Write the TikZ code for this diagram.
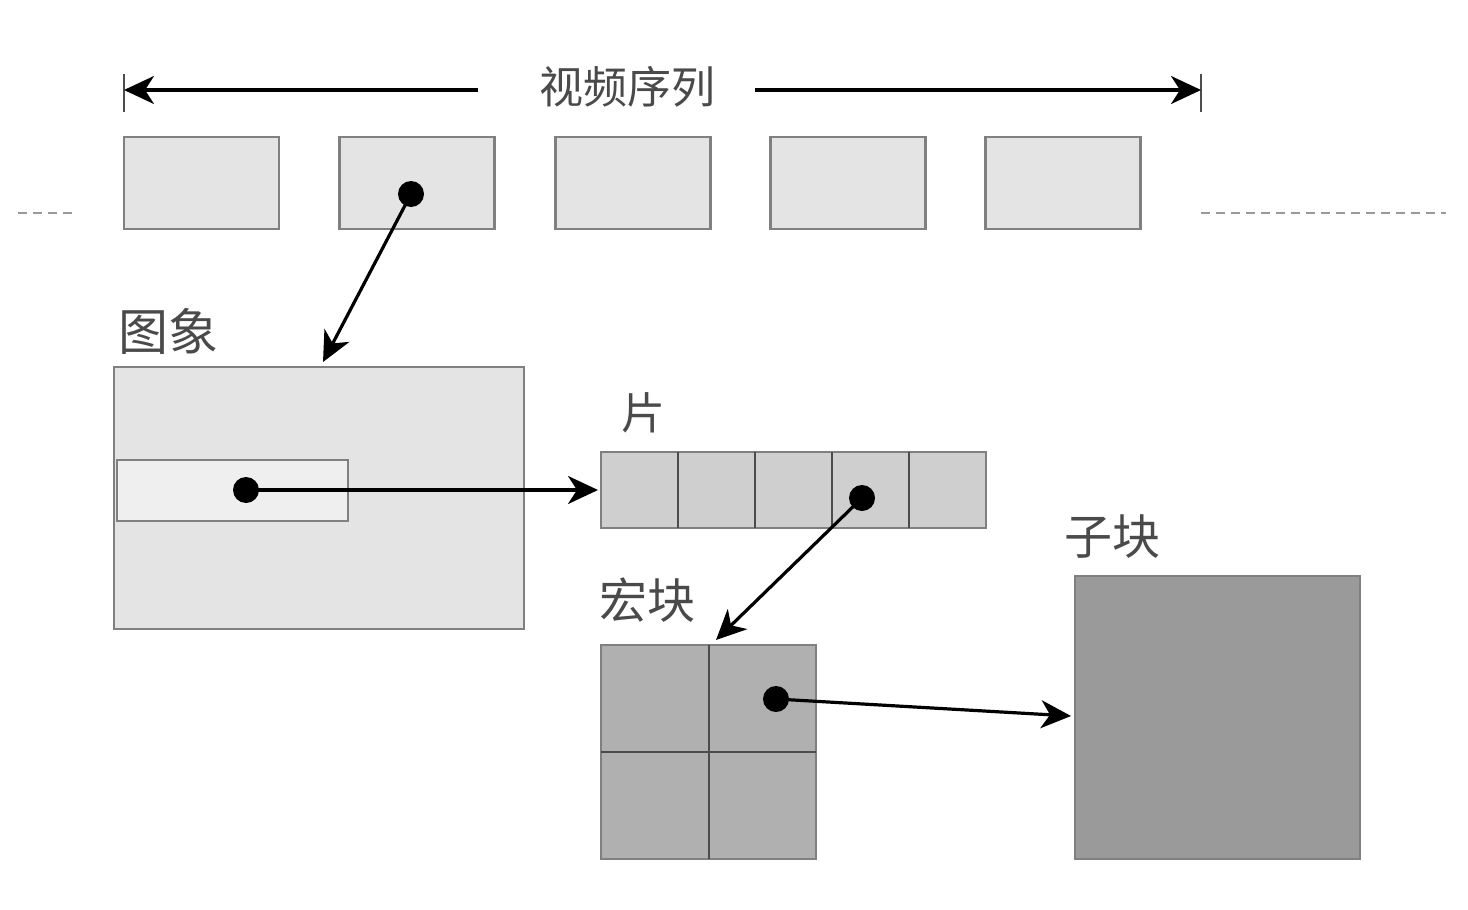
\documentclass[tikz,border=0pt]{standalone}
\usepackage{fontspec}
\newfontfamily\cjk{Noto Sans CJK SC}
\usetikzlibrary{arrows.meta}
\definecolor{framefill}{HTML}{E4E4E4}
\definecolor{innerfill}{HTML}{EFEFEF}
\definecolor{slicefill}{HTML}{CFCFCF}
\definecolor{mbfill}{HTML}{B0B0B0}
\definecolor{subfill}{HTML}{9A9A9A}
\definecolor{edge}{HTML}{808080}
\definecolor{txt}{HTML}{4A4A4A}
\tikzset{
  box/.style={draw=edge, line width=2.2pt},
  cellline/.style={draw=black!70, line width=1.6pt},
  conn/.style={line width=3.2pt, -{Stealth[length=30pt,width=28pt,inset=9pt]}},
  dotmark/.style={circle, fill=black, inner sep=0pt, minimum size=26pt},
  lbl/.style={text=txt, font=\cjk\fontsize{44}{44}\selectfont, inner sep=0pt},
  dash line/.style={draw=gray!80, line width=2.5pt, dash pattern=on 9pt off 6pt},
}
\begin{document}
\begin{tikzpicture}[x=1pt,y=-1pt]
\useasboundingbox (0,0) rectangle (1468,910);
% top span arrow
\coordinate (tl) at (124,90);
\coordinate (tr) at (1201,90);
\draw[edge!60!black, line width=1.8pt] (124,74) -- (124,112);
\draw[edge!60!black, line width=1.8pt] (1201,74) -- (1201,112);
\node[lbl] (seq) at (627,87) {视频序列};
\coordinate (la) at (478,90);
\coordinate (ra) at (755,90);
\draw[conn] (la) -- (tl);
\draw[conn] (ra) -- (tr);
% frames
\node[box, fill=framefill, minimum width=155pt, minimum height=92pt, inner sep=0pt] (f1) at (201.5,183) {};
\node[box, fill=framefill, minimum width=155pt, minimum height=92pt, inner sep=0pt] (f2) at (417,183) {};
\node[box, fill=framefill, minimum width=155pt, minimum height=92pt, inner sep=0pt] (f3) at (633,183) {};
\node[box, fill=framefill, minimum width=155pt, minimum height=92pt, inner sep=0pt] (f4) at (848,183) {};
\node[box, fill=framefill, minimum width=155pt, minimum height=92pt, inner sep=0pt] (f5) at (1063,183) {};
% dashed continuation
\coordinate (dl1) at (18,213); \coordinate (dl2) at (72,213);
\coordinate (dr1) at (1201,213); \coordinate (dr2) at (1446,213);
\draw[dash line] (dl1) -- (dl2);
\draw[dash line] (dr1) -- (dr2);
% picture
\node[lbl, font=\cjk\fontsize{50}{50}\selectfont] (pic lbl) at (168,331) {图象};
\node[box, fill=framefill, minimum width=410pt, minimum height=262pt, inner sep=0pt] (pic) at (319,498) {};
\node[box, fill=innerfill, minimum width=231pt, minimum height=61pt, inner sep=0pt] (strip) at (232.5,490.5) {};
\coordinate (picin) at (323,362);
\node[dotmark] (d1) at (411,194) {};
\draw[conn] (d1.center) -- (picin);
% slice
\node[lbl] (slice lbl) at (643,413) {片};
\node[box, fill=slicefill, minimum width=385pt, minimum height=76pt, inner sep=0pt] (slice) at (793.5,490) {};
\foreach \xx in {678,755,832,909} \draw[cellline] (\xx,452) -- (\xx,528);
\node[dotmark] (d2) at (246,490) {};
\coordinate (slicein) at (598,490);
\draw[conn] (d2.center) -- (slicein);
% macroblock
\node[lbl, font=\cjk\fontsize{48}{48}\selectfont] (mb lbl) at (647,600) {宏块};
\node[box, fill=mbfill, minimum width=215pt, minimum height=214pt, inner sep=0pt] (mb) at (708.5,752) {};
\draw[cellline] (709,645) -- (709,859);
\draw[cellline] (601,752) -- (816,752);
\node[dotmark] (d3) at (862,498) {};
\coordinate (mbin) at (716,640);
\draw[conn] (d3.center) -- (mbin);
% sub block
\node[lbl, font=\cjk\fontsize{48}{48}\selectfont] (sb lbl) at (1112,537) {子块};
\node[box, fill=subfill, minimum width=285pt, minimum height=283pt, inner sep=0pt] (sb) at (1217.5,717.5) {};
\node[dotmark] (d4) at (776,699) {};
\coordinate (sbin) at (1071,716);
\draw[conn] (d4.center) -- (sbin);
\end{tikzpicture}
\end{document}
